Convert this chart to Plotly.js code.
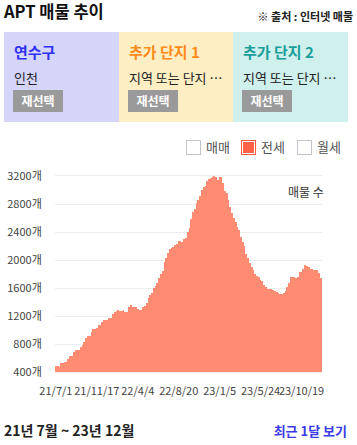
<!DOCTYPE html>
<html>
<head>
<meta charset="utf-8">
<script src="https://cdn.plot.ly/plotly-3.0.1.min.js"></script>
<style>
  html, body { margin: 0; padding: 0; background: #fff; }
  body { width: 357px; height: 445px; position: relative; overflow: hidden;
         font-family: 'Noto Sans CJK KR', 'Noto Sans', sans-serif; color: #222; }
  .abs { position: absolute; white-space: nowrap; }
  #title { left: 4px; top: -1px; font-size: 16.5px; font-weight: 700; color: #111; }
  #source { right: 4px; top: 8px; font-size: 11px; font-weight: 700; color: #222; }
  .box { position: absolute; top: 32px; height: 90px; }
  .box .name { position: absolute; left: 10px; top: 9px; font-size: 15px; font-weight: 700; }
  .box .sub { position: absolute; left: 10px; top: 36px; font-size: 13px; color: #222; }
  .box .btn { position: absolute; left: 9px; top: 58px; width: 50px; height: 22px; background: #9a9a9a;
              color: #fff; font-size: 12px; font-weight: 700; text-align: center; line-height: 22px; }
  .lg { position: absolute; top: 140px; width: 13px; height: 13px; border: 1px solid #c4c4cc; background: #fff; }
  .lgt { position: absolute; top: 137px; font-size: 13px; color: #555; }
  #chart { position: absolute; left: 0; top: 130px; width: 357px; height: 275px; }
  #range { left: 4px; top: 420px; font-size: 14px; font-weight: 700; color: #222; }
  #recent { right: 10px; top: 421px; font-size: 13px; font-weight: 700; color: #3b3be6; }
</style>
</head>
<body>
<div id="title" class="abs">APT 매물 추이</div>
<div id="source" class="abs">※ 출처 : 인터넷 매물</div>

<div class="box" style="left:4px;width:115px;background:#d5d5fa;">
  <div class="name" style="color:#2f2ff5;">연수구</div>
  <div class="sub">인천</div>
  <div class="btn">재선택</div>
</div>
<div class="box" style="left:119px;width:114px;background:#fdeec3;">
  <div class="name" style="color:#ff8a1a;">추가 단지 1</div>
  <div class="sub">지역 또는 단지 …</div>
  <div class="btn">재선택</div>
</div>
<div class="box" style="left:233px;width:115px;background:#d0f0ee;">
  <div class="name" style="color:#1a9e9a;">추가 단지 2</div>
  <div class="sub">지역 또는 단지 …</div>
  <div class="btn">재선택</div>
</div>

<div class="lg" style="left:186px;"></div>
<div class="lgt" style="left:206px;">매매</div>
<div class="lg" style="left:241px;background:#ff6347;border-color:#ff5a3c;box-shadow:inset 0 0 0 1px #fff;"></div>
<div class="lgt" style="left:261px;">전세</div>
<div class="lg" style="left:297px;"></div>
<div class="lgt" style="left:317px;">월세</div>

<div id="chart"></div>

<div id="range" class="abs">21년 7월 ~ 23년 12월</div>
<div id="recent" class="abs">최근 1달 보기</div>

<script>
// 전세 매물 수 (equally spaced periods 21/7/1 .. 23/12)
const listings = [
  486, 486, 471, 524, 524, 543, 543, 586, 629, 629,
  690, 714, 714, 714, 753, 786, 833, 881, 914, 914,
  971, 1014, 1014, 1033, 1076, 1071, 1114, 1143, 1143, 1143,
  1171, 1171, 1224, 1252, 1276, 1281, 1276, 1276, 1286, 1257,
  1257, 1333, 1357, 1333, 1324, 1324, 1295, 1286, 1286, 1324,
  1348, 1390, 1452, 1500, 1524, 1595, 1633, 1667, 1738, 1800,
  1848, 1976, 2024, 2100, 2152, 2167, 2186, 2214, 2229, 2276,
  2276, 2262, 2305, 2320, 2405, 2452, 2581, 2690, 2724, 2810,
  2857, 2914, 3000, 3038, 3057, 3133, 3152, 3167, 3181, 3200,
  3181, 3143, 3181, 3181, 3095, 2990, 2952, 2857, 2760, 2667,
  2595, 2548, 2476, 2429, 2330, 2262, 2200, 2090, 2024, 1952,
  1895, 1857, 1800, 1771, 1762, 1714, 1705, 1650, 1610, 1590,
  1581, 1581, 1571, 1552, 1543, 1524, 1514, 1514, 1524, 1560,
  1619, 1667, 1752, 1752, 1752, 1740, 1752, 1833, 1833, 1867,
  1928, 1914, 1895, 1867, 1876, 1857, 1857, 1857, 1810, 1738
];
const tickLabels = ['21/7/1', '21/11/17', '22/4/4', '22/8/20', '23/1/5', '23/5/24', '23/10/19'];
const tickIndex = [0, 23, 46, 69, 92, 115, 138];
const yTicks = [400, 800, 1200, 1600, 2000, 2400, 2800, 3200];
const yTickLabels = ['400개', '800개', '1200개', '1600개', '2000개', '2400개', '2800개', '3200개'];

const xIdx = listings.map((_, i) => i);

const trace = {
  type: 'bar',
  x: xIdx,
  y: listings,
  marker: { color: 'rgb(255,139,114)', line: { width: 0 } },
  hoverinfo: 'skip'
};

const layout = {
  width: 357, height: 275,
  margin: { l: 55, r: 35, t: 46, b: 33 },
  paper_bgcolor: 'rgba(0,0,0,0)',
  plot_bgcolor: '#fff',
  bargap: 0,
  showlegend: false,
  font: { family: "'Noto Sans CJK KR', 'Noto Sans', sans-serif", size: 11, color: '#444' },
  xaxis: {
    type: 'linear', range: [-0.5, listings.length - 0.5],
    tickmode: 'array', tickvals: tickIndex, ticktext: tickLabels,
    showgrid: false, zeroline: false,
    showline: true, mirror: true, linecolor: '#ececec', linewidth: 1,
    ticks: 'outside', ticklen: 9, tickcolor: 'rgba(0,0,0,0)',
    tickfont: { size: 11, color: '#444' }, tickangle: 0
  },
  yaxis: {
    range: [400, 3200], tickmode: 'array', tickvals: yTicks, ticktext: yTickLabels,
    showgrid: true, gridcolor: '#ececec', gridwidth: 1, zeroline: false,
    showline: false,
    ticks: 'outside', ticklen: 10, tickcolor: 'rgba(0,0,0,0)',
    tickfont: { size: 11, color: '#444' }
  },
  annotations: [{
    xref: 'paper', yref: 'paper', x: 1, y: 1, xanchor: 'right', yanchor: 'top',
    xshift: 4, yshift: -5,
    text: '매물 수', showarrow: false,
    font: { size: 12, color: '#333' }
  }]
};

Plotly.newPlot('chart', [trace], layout, { displayModeBar: false, staticPlot: true });
</script>
</body>
</html>
